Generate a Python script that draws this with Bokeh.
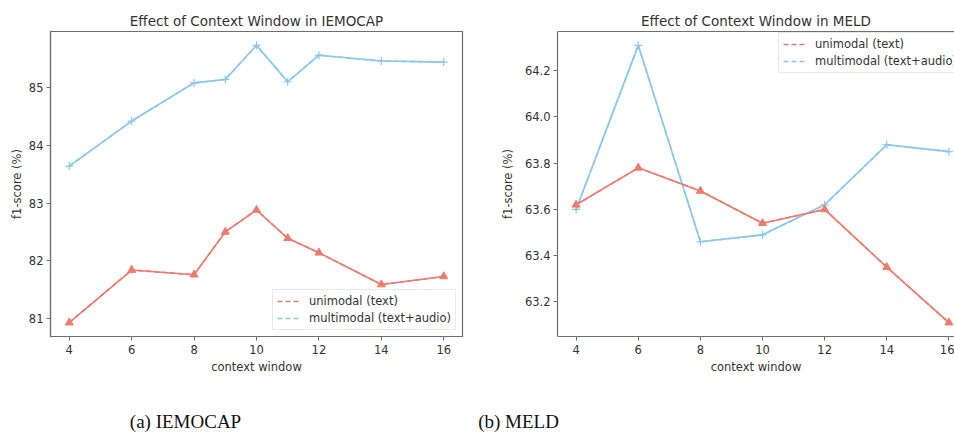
from bokeh.plotting import figure
from bokeh.models import (Range1d, FixedTicker, PrintfTickFormatter, Legend, LegendItem,
                          LinearAxis, ColumnDataSource)
from bokeh.layouts import column, row
from bokeh.embed import file_html
from bokeh.resources import INLINE
from bokeh.core.properties import value

# ---------------- data ----------------
iemocap_windows = [4, 6, 8, 9, 10, 11, 12, 14, 16]
iemocap_text = [80.93, 81.84, 81.76, 82.50, 82.88, 82.39, 82.14, 81.59, 81.73]
iemocap_multi = [83.64, 84.42, 85.08, 85.14, 85.73, 85.10, 85.56, 85.46, 85.44]

meld_windows = [4, 6, 8, 10, 12, 14, 16]
meld_text = [63.62, 63.78, 63.68, 63.54, 63.60, 63.35, 63.11]
meld_multi = [63.60, 64.31, 63.46, 63.49, 63.62, 63.88, 63.85]

x_ticks = [4, 6, 8, 10, 12, 14, 16]
iemocap_y_ticks = [81, 82, 83, 84, 85]
meld_y_ticks = [63.2, 63.4, 63.6, 63.8, 64.0, 64.2]

titles = ["Effect of Context Window in IEMOCAP", "Effect of Context Window in MELD"]
legend_labels = ["unimodal (text)", "multimodal (text+audio)"]
captions = ["(a) IEMOCAP", "(b) MELD"]

RED = "#f07a6e"
BLUE = "#88c8f0"
FONT = "DejaVu Sans"
TXT = "#333333"
SPINE = "#6e6e6e"
FS = "11.5px"
H = 395


def pad_range(vals, frac=0.05):
    lo, hi = min(vals), max(vals)
    d = (hi - lo) * frac
    return lo - d, hi + d


def make_fig(width, title, xr, yr, yticks, yfmt, min_left, min_right):
    p = figure(width=width, height=H, x_range=xr, y_range=yr,
               output_backend="svg", toolbar_location=None,
               min_border_left=min_left, min_border_right=min_right,
               min_border_top=31, min_border_bottom=H - 336)
    p.title.text = title
    p.title.text_font = FONT
    p.title.text_font_size = "13.5px"
    p.title.text_font_style = "normal"
    p.title.text_color = TXT
    p.title.align = "center"
    p.title.standoff = 6
    p.grid.visible = False
    p.background_fill_color = "white"
    p.border_fill_color = "white"
    p.outline_line_color = SPINE
    p.outline_line_width = 1.2
    for ax in (p.xaxis, p.yaxis):
        ax.axis_line_color = SPINE
        ax.axis_line_width = 1.2
        ax.major_tick_line_color = SPINE
        ax.major_tick_out = 4
        ax.major_tick_in = 0
        ax.minor_tick_line_color = None
        ax.major_label_text_font = FONT
        ax.major_label_text_font_size = FS
        ax.major_label_text_color = TXT
        ax.axis_label_text_font = FONT
        ax.axis_label_text_font_size = FS
        ax.axis_label_text_font_style = "normal"
        ax.axis_label_text_color = TXT
    p.xaxis.ticker = FixedTicker(ticks=x_ticks)
    p.yaxis.ticker = FixedTicker(ticks=yticks)
    p.yaxis.formatter = PrintfTickFormatter(format=yfmt)
    p.xaxis.axis_label = "context window"
    p.yaxis.axis_label = "f1-score (%)"
    p.xaxis.major_label_standoff = 4
    p.xaxis.axis_label_standoff = 3
    p.yaxis.major_label_standoff = 3
    return p


def add_series(p, xs, ys_text, ys_multi):
    # dashed copies underneath (only their legend glyphs show)
    r1 = p.line(xs, ys_text, line_color=RED, line_width=1.6, line_dash="5 3")
    r2 = p.line(xs, ys_multi, line_color=BLUE, line_width=1.6, line_dash="5 3")
    p.line(xs, ys_multi, line_color=BLUE, line_width=1.6)
    p.scatter(xs, ys_multi, marker="cross", size=8, line_color=BLUE, line_width=1.2)
    p.line(xs, ys_text, line_color=RED, line_width=1.6)
    p.scatter(xs, ys_text, marker="triangle", size=8, fill_color=RED, line_color=RED)
    return [LegendItem(label=legend_labels[0], renderers=[r1]),
            LegendItem(label=legend_labels[1], renderers=[r2])]


def style_legend(lg):
    lg.label_text_font = FONT
    lg.label_text_font_size = FS
    lg.label_text_color = TXT
    lg.border_line_color = "#d4d4d4"
    lg.border_line_width = 1
    lg.background_fill_alpha = 0.85
    lg.glyph_width = 24
    lg.glyph_height = 12
    lg.label_standoff = 8
    lg.spacing = 3
    lg.padding = 4
    lg.label_height = 14


# ---------------- IEMOCAP ----------------
y0, y1 = pad_range(iemocap_text + iemocap_multi)
x0, x1 = pad_range(x_ticks)
p1 = make_fig(480, titles[0], Range1d(x0, x1), Range1d(y0, y1),
              iemocap_y_ticks, "%d", 50, 18)
p1.yaxis.axis_label_standoff = 2
items1 = add_series(p1, iemocap_windows, iemocap_text, iemocap_multi)
lg1 = Legend(items=items1, location="bottom_right", margin=6)
style_legend(lg1)
p1.add_layout(lg1)

# ---------------- MELD ----------------
y0, y1 = pad_range(meld_text + meld_multi)
p2 = make_fig(474, titles[1], Range1d(x0, 16.18), Range1d(y0, y1),
              meld_y_ticks, "%.1f", 77, 0)
p2.yaxis.axis_label_standoff = 7
p2.outline_line_color = None
top = LinearAxis(ticker=FixedTicker(ticks=[]), axis_line_color=SPINE, axis_line_width=1.2,
                 major_label_text_font_size="0px", major_tick_line_color=None,
                 minor_tick_line_color=None)
p2.add_layout(top, "above")
items2 = add_series(p2, meld_windows, meld_text, meld_multi)
lg2 = Legend(items=items2, location=(221, 263), margin=0)
style_legend(lg2)
p2.add_layout(lg2)

# ---------------- captions ----------------
CH = 435 - H
pc = figure(width=954, height=CH, x_range=Range1d(0, 954), y_range=Range1d(0, CH),
            output_backend="svg", toolbar_location=None,
            min_border_left=0, min_border_right=0, min_border_top=0, min_border_bottom=0)
pc.axis.visible = False
pc.grid.visible = False
pc.outline_line_color = None
cap_src = ColumnDataSource(dict(x=[185, 518], y=[14, 14], text=captions))
pc.text(x="x", y="y", text="text", source=cap_src, text_font=value("Liberation Serif"),
        text_font_size="19px", text_color="#111111", text_align="center",
        text_baseline="alphabetic")

layout = column(row(p1, p2, spacing=0), pc, spacing=0)
open("out.html", "w").write(file_html(layout, INLINE))
